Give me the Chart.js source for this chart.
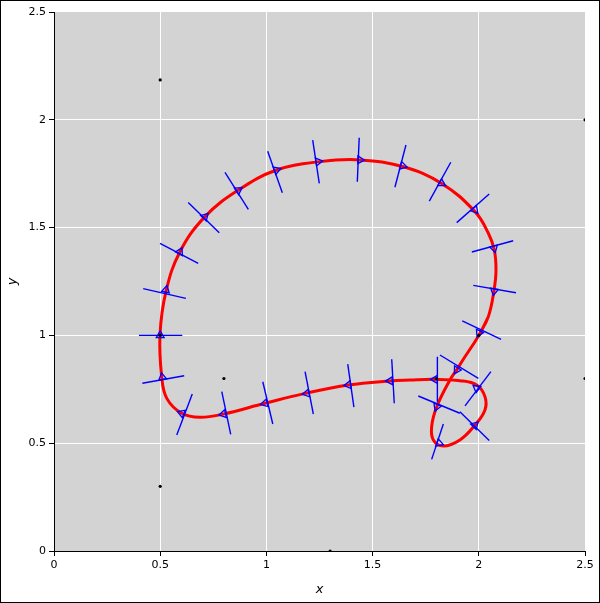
<!DOCTYPE html>
<html>
<head>
<meta charset="utf-8">
<script src="https://cdn.jsdelivr.net/npm/chart.js@4/dist/chart.umd.min.js"></script>
<style>
  html, body { margin: 0; padding: 0; background: #fff; }
  .frame { width: 598px; height: 601px; border: 1px solid #000; }
  canvas { display: block; }
</style>
</head>
<body>
<div class="frame"><canvas id="myChart" width="598" height="601"></canvas></div>
<script>
"use strict";

//////////////////////////////
// Data
const tickLabels = ["0", "0.5", "1", "1.5", "2", "2.5"];

// control / knot points (black dots)
const dotX = [0.5, 2.5, 0.8, 2.5, 0.5, 1.3, 0.5, 2.0, 1.8];
const dotY = [2.185, 2.0, 0.8, 0.8, 0.3, 0.0, 1.0, 1.0, 0.8];

// red curve, in drawing order
const curveX = [2.045, 2.0, 1.925, 1.896, 1.864, 1.802, 1.778, 1.786, 1.833, 1.911, 1.982, 2.029, 2.029,
  1.99, 1.911, 1.794, 1.676, 1.582, 1.386, 1.182, 0.993, 0.797, 0.687, 0.601, 0.531, 0.507,
  0.499, 0.527, 0.593, 0.711, 0.868, 1.048, 1.252, 1.441, 1.645, 1.825, 1.982, 2.045, 2.073,
  2.081, 2.072, 2.045, 2.0];
const curveY = [1.087, 1.0, 0.886, 0.84, 0.793, 0.669, 0.577, 0.515, 0.487, 0.515, 0.584, 0.654, 0.716,
  0.77, 0.79, 0.796, 0.793, 0.789, 0.77, 0.731, 0.685, 0.635, 0.62, 0.639, 0.708, 0.808,
  1.002, 1.203, 1.388, 1.551, 1.674, 1.767, 1.806, 1.814, 1.782, 1.705, 1.574, 1.474, 1.396,
  1.303, 1.211, 1.087, 1.0];

// blue markers: point on curve (in travel order)
const markX = [1.896, 1.802, 1.813, 1.982, 1.99, 1.794, 1.582, 1.386, 1.19, 0.993, 0.797, 0.601, 0.51,
  0.5, 0.527, 0.593, 0.711, 0.868, 1.048, 1.244, 1.441, 1.642, 1.825, 1.982, 2.072, 2.072, 2.001];
const markY = [0.84, 0.669, 0.5, 0.584, 0.755, 0.796, 0.789, 0.77, 0.731, 0.685, 0.635, 0.639, 0.806,
  1.0, 1.211, 1.388, 1.551, 1.674, 1.767, 1.806, 1.814, 1.786, 1.705, 1.582, 1.404, 1.206, 1.011];

// blue normal segments: ends A and B
const segAX = [1.817, 1.715, 1.833, 1.911, 2.057, 1.805, 1.59, 1.383, 1.182, 0.983, 0.79, 0.651, 0.416,
  0.4, 0.42, 0.499, 0.632, 0.805, 1.006, 1.218, 1.437, 1.657, 1.868, 2.049, 2.162, 1.974, 1.922];
const segAY = [0.909, 0.719, 0.589, 0.646, 0.832, 0.901, 0.889, 0.867, 0.832, 0.785, 0.739, 0.728, 0.778,
  1.0, 1.217, 1.427, 1.616, 1.756, 1.854, 1.906, 1.917, 1.883, 1.803, 1.656, 1.439, 1.232, 1.067];
const segBX = [1.998, 1.911, 1.778, 2.049, 1.935, 1.805, 1.602, 1.412, 1.221, 1.03, 0.832, 0.578, 0.613,
  0.604, 0.621, 0.679, 0.778, 0.915, 1.075, 1.249, 1.428, 1.605, 1.767, 1.896, 1.967, 2.175, 2.105];
const segBY = [0.801, 0.639, 0.425, 0.512, 0.673, 0.692, 0.685, 0.667, 0.635, 0.589, 0.541, 0.538, 0.813,
  1.0, 1.172, 1.334, 1.476, 1.585, 1.662, 1.705, 1.713, 1.687, 1.623, 1.523, 1.387, 1.198, 0.982];

//////////////////////////////
// Build datasets
const toPoints = (xs, ys) => xs.map((x, i) => ({ x: x, y: ys[i] }));

// triangle rotation: perpendicular to the segment, pointing the way the curve runs
const n = markX.length;
const rotations = markX.map((x, i) => {
  const prev = (i - 1 + n) % n;
  const next = (i + 1) % n;
  const dx = markX[next] - markX[prev];
  const dy = markY[next] - markY[prev];
  let tx = segBY[i] - segAY[i];
  let ty = -(segBX[i] - segAX[i]);
  if (tx * dx + ty * dy < 0) {
    tx = -tx;
    ty = -ty;
  }
  return (Math.atan2(tx, ty) * 180) / Math.PI;
});

const datasets = [];

datasets.push({
  data: toPoints(dotX, dotY),
  showLine: false,
  pointRadius: 1.6,
  pointBackgroundColor: "#000",
  pointBorderWidth: 0,
});

datasets.push({
  data: toPoints(markX, markY),
  showLine: false,
  pointStyle: "triangle",
  pointRadius: 4.5,
  pointRotation: rotations,
  pointBorderColor: "#0000ff",
  pointBackgroundColor: "rgba(0,0,0,0)",
  pointBorderWidth: 1.3,
});

segAX.forEach((x, i) => {
  datasets.push({
    data: [
      { x: segAX[i], y: segAY[i] },
      { x: segBX[i], y: segBY[i] },
    ],
    showLine: true,
    borderColor: "#0000ff",
    borderWidth: 1.4,
    pointRadius: 0,
    tension: 0,
  });
});

datasets.push({
  data: toPoints(curveX, curveY),
  showLine: true,
  borderColor: "#ff0000",
  borderWidth: 3,
  pointRadius: 0,
  tension: 0.4,
});

//////////////////////////////
// Plot background
const plotBg = {
  id: "plotBg",
  beforeDraw(chart) {
    const { ctx, chartArea } = chart;
    ctx.save();
    ctx.fillStyle = "#d3d3d3";
    ctx.fillRect(chartArea.left, chartArea.top, chartArea.right - chartArea.left, chartArea.bottom - chartArea.top);
    ctx.restore();
  },
};

const gridColor = (c) => (c.tick && c.tick.value > 0 && c.tick.value < 2.5 ? "#ffffff" : "rgba(0,0,0,0)");

const axis = (title, size) => ({
  type: "linear",
  min: 0,
  max: 2.5,
  afterFit(scale) {
    if (scale.isHorizontal()) scale.height = size;
    else scale.width = size;
  },
  ticks: {
    stepSize: 0.5,
    color: "#000",
    padding: 3,
    font: { family: "DejaVu Sans", size: 11 },
    callback: (v) => tickLabels[Math.round(v / 0.5)],
  },
  grid: {
    color: gridColor,
    lineWidth: 1,
    tickColor: "#000",
    tickLength: 5,
    drawTicks: true,
  },
  border: { display: true, color: "#000", width: 1 },
  title: {
    display: true,
    text: title,
    color: "#000",
    font: { family: "DejaVu Sans", size: 13, style: "italic" },
    padding: { top: 4, bottom: 4 },
  },
});

const canvas = document.getElementById("myChart");
new Chart(canvas.getContext("2d"), {
  type: "scatter",
  data: { datasets: datasets },
  options: {
    responsive: false,
    animation: false,
    layout: { padding: { left: 0, right: 14, top: 11, bottom: 1 } },
    plugins: { legend: { display: false }, tooltip: { enabled: false } },
    scales: {
      x: axis("x", 50),
      y: axis("y", 53),
    },
  },
  plugins: [plotBg],
});
</script>
</body>
</html>
